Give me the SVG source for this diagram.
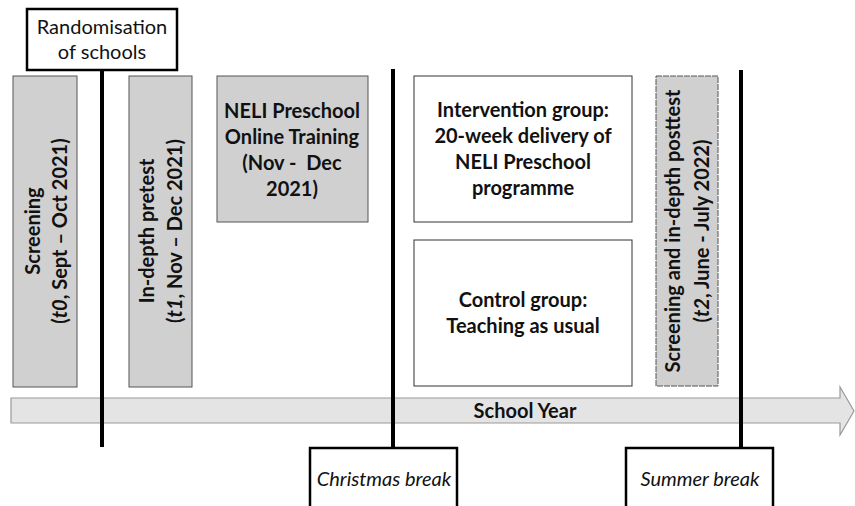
<svg xmlns="http://www.w3.org/2000/svg" width="855" height="506" viewBox="0 0 855 506">
<style>
.grey{fill:#d0d0d0;stroke:#555;stroke-width:1}
.white{fill:#fff;stroke:#333;stroke-width:1}
.blk{fill:#fff;stroke:#000;stroke-width:2.5}
.t{font-family:Lato,"Liberation Sans",sans-serif;font-size:20px;fill:#111;text-anchor:middle}
.b{font-weight:bold}
.i{font-style:italic}
.vl{stroke:#000;stroke-width:4}
</style>
<rect width="855" height="506" fill="#fff"/>
<g id="timeline">
<path d="M11,398 H840 V387 L854,411 L840,435 V423 H11 Z" fill="#e4e4e4" stroke="#9a9a9a" stroke-width="1.2"/>
<text class="t b" x="525" y="418">School Year</text>
</g>
<g id="screening">
<rect class="grey" x="13" y="76" width="64" height="311"/>
<text class="t b" transform="rotate(-90)" x="-231" y="40">Screening</text>
<text class="t b" transform="rotate(-90)" x="-231" y="67">(<tspan class="i">t0</tspan>, Sept – Oct 2021)</text>
</g>
<g id="pretest">
<rect class="grey" x="129" y="76" width="63" height="311"/>
<text class="t b" transform="rotate(-90)" x="-231" y="154">In-depth pretest</text>
<text class="t b" transform="rotate(-90)" x="-231" y="182">(<tspan class="i">t1</tspan>, Nov – Dec 2021)</text>
</g>
<g id="training">
<rect class="grey" x="217" y="76" width="151" height="146"/>
<text class="t b" x="292" y="118">NELI Preschool</text>
<text class="t b" x="292" y="144">Online Training</text>
<text class="t b" x="292" y="170" xml:space="preserve">(Nov -  Dec</text>
<text class="t b" x="292" y="196">2021)</text>
</g>
<g id="intervention">
<rect class="white" x="414" y="76" width="218" height="146"/>
<text class="t b" x="523" y="117">Intervention group:</text>
<text class="t b" x="523" y="143">20-week delivery of</text>
<text class="t b" x="523" y="169">NELI Preschool</text>
<text class="t b" x="523" y="195">programme</text>
</g>
<g id="control">
<rect class="white" x="414" y="240" width="218" height="146"/>
<text class="t b" x="523" y="307">Control group:</text>
<text class="t b" x="523" y="333">Teaching as usual</text>
</g>
<g id="posttest">
<rect class="grey" x="656" y="76" width="62" height="310" stroke="#444" stroke-dasharray="6 1"/>
<text class="t b" transform="rotate(-90)" x="-231" y="680">Screening and in-depth posttest</text>
<text class="t b" transform="rotate(-90)" x="-231" y="709">(<tspan class="i">t2</tspan>, June - July 2022)</text>
</g>
<g id="connectors">
<line class="vl" x1="102" y1="70" x2="102" y2="447"/>
<line class="vl" x1="393" y1="69" x2="393" y2="448"/>
<line class="vl" x1="741" y1="70" x2="741" y2="448"/>
</g>
<g id="randomisation">
<rect class="blk" x="27" y="9" width="150" height="61"/>
<text class="t" x="102" y="34">Randomisation</text>
<text class="t" x="102" y="59">of schools</text>
</g>
<g id="christmas">
<rect class="blk" x="310" y="448" width="147" height="70"/>
<text class="t i" x="384" y="486">Christmas break</text>
</g>
<g id="summer">
<rect class="blk" x="626" y="448" width="147" height="70"/>
<text class="t i" x="700" y="486">Summer break</text>
</g>
</svg>
